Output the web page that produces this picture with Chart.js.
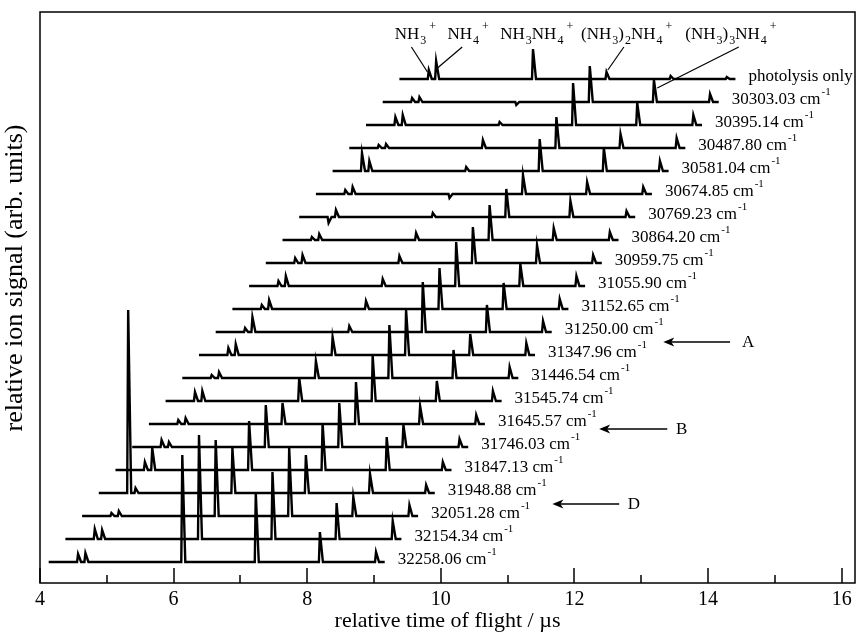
<!DOCTYPE html>
<html>
<head>
<meta charset="utf-8">
<script src="https://cdn.jsdelivr.net/npm/chart.js@4.4.1/dist/chart.umd.min.js"></script>
<style>
    html, body { margin: 0; padding: 0; background: #fff; }
    #contenedorGrafico { width: 858px; height: 634px; }
</style>
</head>
<body>
<div id="contenedorGrafico"><canvas id="graficoTof"></canvas></div>
<script>
// etiquetas de cada traza, de abajo hacia arriba
var etiquetas = ['32258.06', '32154.34', '32051.28', '31948.88', '31847.13', '31746.03',
    '31645.57', '31545.74', '31446.54', '31347.96', '31250.00', '31152.65', '31055.90',
    '30959.75', '30864.20', '30769.23', '30674.85', '30581.04', '30487.80', '30395.14',
    '30303.03', 'photolysis only'];

// inicio de cada traza (us) y largo de la ventana
var inicio = [4.13, 4.38, 4.63, 4.88, 5.13, 5.38, 5.63, 5.88, 6.13, 6.38, 6.63,
    6.88, 7.13, 7.38, 7.63, 7.88, 8.13, 8.38, 8.63, 8.88, 9.13, 9.38];
var duracion = 5.03;

// tiempo de llegada de cada ion dentro de la traza (us)
var tiempoIon = [0.44, 0.55, 2.00, 3.10, 4.06, 4.90];

// altura de los picos (arb. units), una por traza
var nh3 =      [8, 10, 3, 183, 8, 7, 4, 9, 3, 7, 4, 4, 5, 5, 3, -6, 4, 18, 3, 8, 4, 9];
var nh4 =      [9, 9, 5, 5, 22, 5, 6, 10, 6, 11, 15, 9, 10, 8, 6, 7, 7, 10, 4, 10, 5, 18];
var nh3nh4 =   [107, 104, 76, 45, 49, 42, 21, 23, 17, 18, 6, 8, 7, 7, 7, 4, -4, 4, 8, 3, -3, 30];
var nh3_2nh4 = [69, 67, 68, 38, 47, 44, 42, 45, 53, 45, 50, 41, 44, 36, 35, 28, 19, 32, 31, 42, 36, 7];
var nh3_3nh4 = [30, 36, 19, 19, 33, 22, 18, 20, 28, 21, 27, 26, 22, 18, 12, 16, 12, 23, 14, 22, 22, 3];
var nh3_4nh4 = [10, 18, 11, 8, 8, 8, 9, 10, 11, 12, 11, 10, 10, 8, 8, 6, 7, 10, 10, 10, 8, 2];

var picos = [nh3, nh4, nh3nh4, nh3_2nh4, nh3_3nh4, nh3_4nh4];

// separacion vertical entre trazas
var paso = 23, base0 = 21;
function base(i) { return base0 + paso * i; }

// armar los puntos de cada traza: linea base + picos
var datasets = [];
for (var i = 0; i < etiquetas.length; i++) {
    var b = base(i);
    var s = inicio[i];
    var pts = [{x: s, y: b}];
    for (var j = 0; j < tiempoIon.length; j++) {
        var t = s + tiempoIon[j];
        pts.push({x: t - 0.015, y: b});
        pts.push({x: t, y: b + picos[j][i]});
        pts.push({x: t + 0.045, y: b});
    }
    pts.push({x: s + duracion, y: b});
    datasets.push({
        label: etiquetas[i],
        data: pts,
        borderColor: '#000',
        borderWidth: 2.4,
        pointRadius: 0,
        tension: 0,
        fill: false
    });
}

// rotulos de los iones arriba
var iones = [
    {x: 9.31, partes: [['NH', 0], ['3', -1], ['+', 1]]},
    {x: 10.10, partes: [['NH', 0], ['4', -1], ['+', 1]]},
    {x: 10.89, partes: [['NH', 0], ['3', -1], ['NH', 0], ['4', -1], ['+', 1]]},
    {x: 12.10, partes: [['(NH', 0], ['3', -1], [')', 0], ['2', -1], ['NH', 0], ['4', -1], ['+', 1]]},
    {x: 13.66, partes: [['(NH', 0], ['3', -1], [')', 0], ['3', -1], ['NH', 0], ['4', -1], ['+', 1]]}
];
var yIones = 544;
var guias = [
    [9.56, 536, 9.80, 511],
    [10.32, 536, 9.95, 515],
    [12.74, 536, 12.50, 513],
    [14.46, 536, 13.24, 495]
];
var flechas = [
    {x1: 14.33, x2: 13.33, y: 241, letra: 'A', xl: 14.51},
    {x1: 13.39, x2: 12.37, y: 154, letra: 'B', xl: 13.52},
    {x1: 12.67, x2: 11.67, y: 79, letra: 'D', xl: 12.80}
];

var SERIF = '"Liberation Serif", "Times New Roman", serif';

function textoRico(ctx, x, y, partes) {
    for (var k = 0; k < partes.length; k++) {
        var p = partes[k];
        if (p[1] === 0) {
            ctx.font = '17px ' + SERIF;
            ctx.fillText(p[0], x, y);
        } else if (p[1] < 0) {
            ctx.font = '12px ' + SERIF;
            ctx.fillText(p[0], x + 1, y + 5);
        } else {
            ctx.font = '12px ' + SERIF;
            ctx.fillText(p[0], x + 3, y - 9);
        }
        x += ctx.measureText(p[0]).width + (p[1] === 0 ? 0 : 1);
    }
}

var decoracion = {
    id: 'decoracion',
    afterDraw: function (chart) {
        var ctx = chart.ctx, a = chart.chartArea;
        var sx = chart.scales.x, sy = chart.scales.y;
        ctx.save();
        ctx.strokeStyle = '#000';
        ctx.fillStyle = '#000';

        // marco
        ctx.lineWidth = 1.5;
        ctx.strokeRect(a.left, a.top, a.right - a.left, a.bottom - a.top);

        // ticks hacia adentro
        for (var v = 4; v <= 16; v++) {
            var px = Math.round(sx.getPixelForValue(v));
            var largo = (v % 2 === 0) ? 15 : 8;
            ctx.beginPath();
            ctx.moveTo(px, a.bottom);
            ctx.lineTo(px, a.bottom - largo);
            ctx.stroke();
        }

        // titulo del eje y
        ctx.save();
        ctx.translate(15, sy.getPixelForValue(305));
        ctx.rotate(-Math.PI / 2);
        ctx.textAlign = 'center';
        ctx.textBaseline = 'middle';
        ctx.font = '26px ' + SERIF;
        ctx.fillText('relative ion signal (arb. units)', 0, 0);
        ctx.restore();

        // numero de onda al final de cada traza
        ctx.textBaseline = 'alphabetic';
        ctx.textAlign = 'left';
        for (var i = 0; i < etiquetas.length; i++) {
            var x = sx.getPixelForValue(inicio[i] + duracion) + 13;
            var y = sy.getPixelForValue(base(i)) + 2;
            ctx.font = '17px ' + SERIF;
            if (i === etiquetas.length - 1) {
                ctx.fillText(etiquetas[i], x, y);
            } else {
                var txt = etiquetas[i] + ' cm';
                ctx.fillText(txt, x, y);
                var w = ctx.measureText(txt).width;
                ctx.font = '11px ' + SERIF;
                ctx.fillText('-1', x + w + 1, y - 9);
            }
        }

        // iones
        for (var k = 0; k < iones.length; k++) {
            textoRico(ctx, sx.getPixelForValue(iones[k].x), sy.getPixelForValue(yIones), iones[k].partes);
        }
        ctx.lineWidth = 1.2;
        for (var g = 0; g < guias.length; g++) {
            ctx.beginPath();
            ctx.moveTo(sx.getPixelForValue(guias[g][0]), sy.getPixelForValue(guias[g][1]));
            ctx.lineTo(sx.getPixelForValue(guias[g][2]), sy.getPixelForValue(guias[g][3]));
            ctx.stroke();
        }

        // flechas A, B, D
        for (var f = 0; f < flechas.length; f++) {
            var fl = flechas[f];
            var xa = sx.getPixelForValue(fl.x1), xb = sx.getPixelForValue(fl.x2);
            var yy = sy.getPixelForValue(fl.y);
            ctx.lineWidth = 1.5;
            ctx.beginPath();
            ctx.moveTo(xa, yy);
            ctx.lineTo(xb + 4, yy);
            ctx.stroke();
            ctx.beginPath();
            ctx.moveTo(xb, yy);
            ctx.lineTo(xb + 11, yy - 4.5);
            ctx.lineTo(xb + 8, yy);
            ctx.lineTo(xb + 11, yy + 4.5);
            ctx.closePath();
            ctx.fill();
            ctx.font = '17px ' + SERIF;
            ctx.textBaseline = 'middle';
            ctx.fillText(fl.letra, sx.getPixelForValue(fl.xl), yy + 1);
            ctx.textBaseline = 'alphabetic';
        }
        ctx.restore();
    }
};

var ctx = document.getElementById('graficoTof').getContext('2d');
var chart = new Chart(ctx, {
    type: 'line',
    data: { datasets: datasets },
    options: {
        responsive: true,
        maintainAspectRatio: false,
        animation: false,
        layout: { padding: { top: 12, right: 3, left: 0, bottom: 0 } },
        plugins: {
            legend: { display: false },
            tooltip: { enabled: false }
        },
        scales: {
            x: {
                type: 'linear',
                min: 4,
                max: 16.2,
                grid: { display: false, drawTicks: false },
                border: { display: false },
                ticks: {
                    stepSize: 2,
                    includeBounds: false,
                    color: '#000',
                    padding: 5,
                    maxRotation: 0,
                    font: { family: SERIF, size: 20 }
                },
                title: {
                    display: true,
                    text: 'relative time of flight / \u00b5s',
                    color: '#000',
                    padding: { top: 0, bottom: 0 },
                    font: { family: SERIF, size: 22 }
                },
                afterFit: function (scale) { scale.height = 51; }
            },
            y: {
                type: 'linear',
                min: 0,
                max: 571,
                display: true,
                grid: { display: false, drawTicks: false },
                border: { display: false },
                ticks: { display: false },
                afterFit: function (scale) { scale.width = 40; }
            }
        }
    },
    plugins: [decoracion]
});
</script>
</body>
</html>
